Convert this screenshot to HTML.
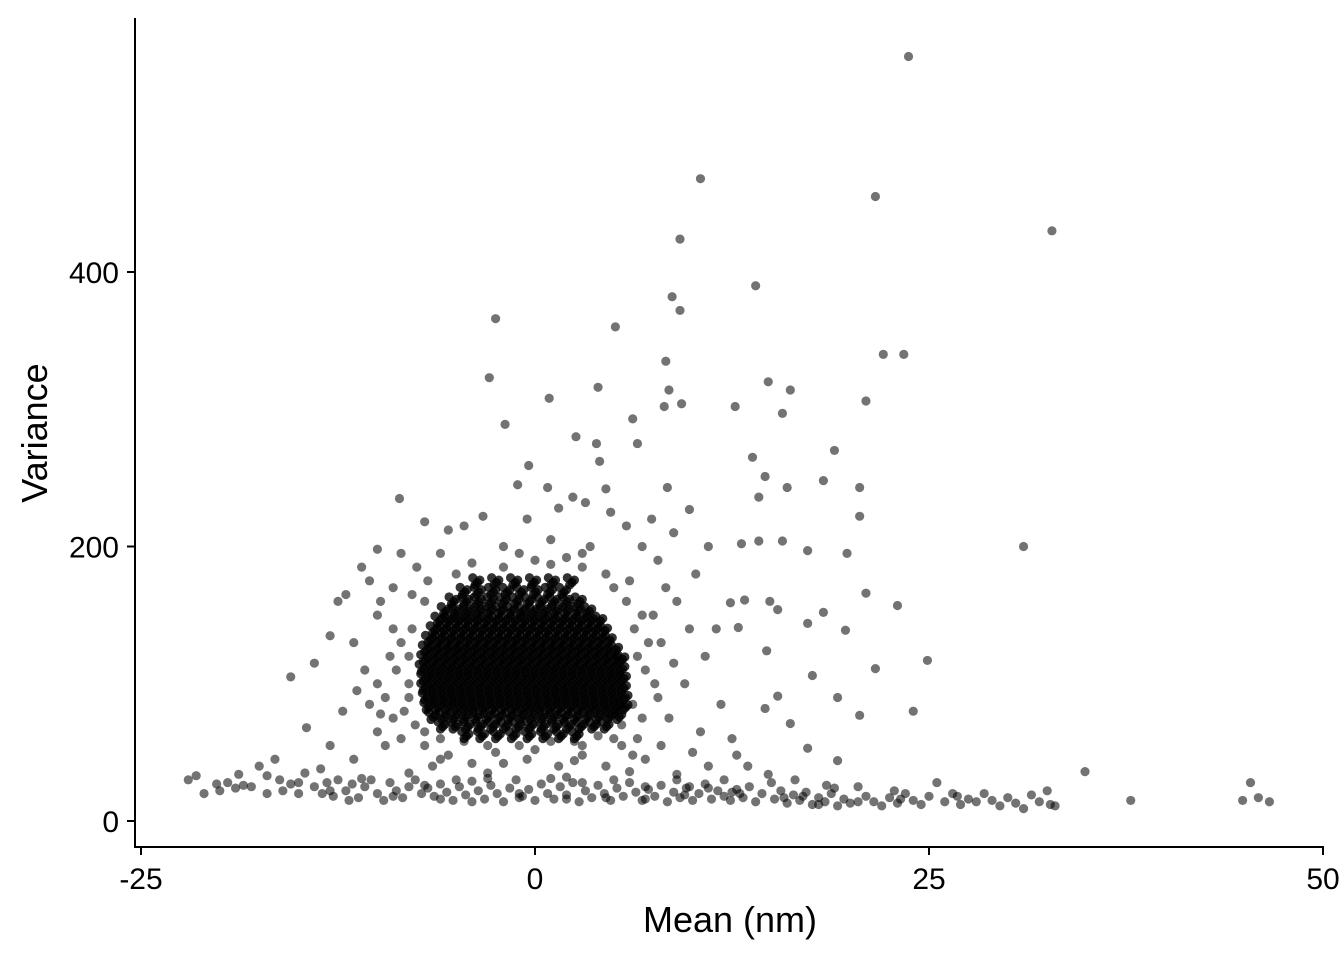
<!DOCTYPE html>
<html><head><meta charset="utf-8"><style>
html,body{margin:0;padding:0;background:#fff;}
svg text{font-family:"Liberation Sans",Arial,sans-serif;}
</style></head><body>
<svg id="chart" width="1344" height="960">
<g id="pts"></g>
<line x1="135" y1="18" x2="135" y2="848" stroke="#000" stroke-width="2"/>
<line x1="134" y1="847" x2="1324" y2="847" stroke="#000" stroke-width="2"/>
<g id="ticks"></g>
<text x="730" y="932" font-size="36" text-anchor="middle">Mean (nm)</text>
<text transform="translate(47,433) rotate(-90)" font-size="36" text-anchor="middle">Variance</text>
</svg>
<script>
const xTicks=[-25,0,25,50];
const yTicks=[0,200,400];
const outliers=[[23.7,557],[10.5,468],[21.6,455],[32.8,430],[9.2,424],[14,390],[8.7,382],[9.2,372],[-2.5,366],[5.1,360],[22.1,340],[23.4,340],[8.3,335],[-2.9,323],[14.8,320],[16.2,314],[4,316],[8.5,314],[21,306],[0.9,308],[9.3,304],[8.2,302],[12.7,302],[15.7,297],[6.2,293],[-1.9,289],[2.6,280],[3.9,275],[6.5,275],[19,270],[13.8,265],[4.1,262],[-0.4,259],[14.6,251],[18.3,248],[20.6,243],[16,243],[8.4,243],[-1.1,245],[0.8,243],[-8.6,235],[14.2,236],[2.4,236],[4.5,242],[31,200],[20.6,222],[9.8,227],[7.4,220],[13.1,202],[14.2,204],[15.7,204],[17.3,197],[19.8,195],[21,166],[23,157],[24.9,117],[24,80],[21.6,111],[19.7,139],[18.3,152],[17.3,144],[15.4,154],[14.9,160],[13.3,161],[12.4,159],[12.9,141],[14.7,124],[15.4,91],[14.6,82],[16.2,71],[17.6,106],[19.2,90],[20.6,77],[19.2,44],[17.3,53],[34.9,36],[37.8,15],[45.4,28],[44.9,15],[45.9,17],[46.6,14],[32.7,12],[11,200],[10.2,180],[9,160],[11.5,140],[10.8,120],[9.5,100],[11.8,85],[12.5,60],[10,50],[8.8,210],[7.8,190],[6.8,200],[5.8,215],[4.8,225],[3.2,232],[1.5,228],[-0.5,220],[-3.3,222],[-4.5,215],[-5.5,212],[-7,218],[-8.5,195],[-10,198],[-11,185],[-12,165],[-12.5,160],[-10.5,175],[-9,170],[-13,135],[-14,115],[-15.5,105],[-14.5,68],[-13,55],[-11.5,45],[-10,65],[-8.5,60],[-9.5,90],[-10.8,110],[-8,120],[-11.5,130],[7.5,150],[8,130],[7,110],[7.8,90],[8.5,75],[6.5,60],[7,45],[5.5,55],[4.5,40],[3,48],[1.5,40],[-0.5,45],[-2.5,50],[-4,42],[-5.5,48],[-7,55],[-6.5,40],[-8,35],[-3,35],[2,32],[6,36],[9,34],[12.8,48],[13.5,40],[8.3,170],[6,175],[-7.5,185],[-6,195],[-2,200],[1,205],[3.5,200],[-10,150],[-9,140],[-11.3,95],[-12.2,80],[-9.8,78],[10.5,65],[11,40],[9.8,25],[12,30],[-8,100],[-8.3,80],[-7.8,140],[-7,160],[-5,180],[3,185],[5,170],[6.3,140],[6.5,120],[6.2,85],[5.5,70],[-6,60],[-3,55],[0,52],[2.5,58],[4,62],[-2,185],[0,190],[2,192],[-8.5,130],[-8.8,110],[-9.2,120],[-8,90],[-7.6,70],[-9,75],[-10,100],[-7.8,165],[-6.8,175],[-4,188],[-1,195],[1,187],[3,195],[4.5,180],[5.8,160],[6.8,150],[7.2,130],[7.6,100],[6.8,75],[5,60],[3,55],[1,58],[-1,55],[-4.5,58],[-7,65],[-9.5,55],[-6,45],[-2,42],[2.5,44],[6.2,48],[8,55],[-10.5,85],[-9.8,160],[8.8,115],[9.8,140]];
const streak=[[-22,30],[-21.5,33],[-21,20],[-20.2,27],[-19.5,28],[-19,24],[-18.5,26],[-18,25],[-17.5,40],[-17,33],[-16.5,45],[-16.2,30],[-16,22],[-15.5,27],[-15,20],[-14.6,35],[-14,25],[-13.6,38],[-13.2,28],[-12.8,18],[-12.5,30],[-12,22],[-11.6,27],[-11.2,17],[-10.8,25],[-10.4,30],[-10,20],[-9.6,15],[-9.2,28],[-8.8,22],[-8.4,17],[-8,25],[-7.6,30],[-7.2,20],[-6.8,24],[-6.4,18],[-6,27],[-5.6,21],[-5.2,15],[-4.8,25],[-4.4,19],[-4,29],[-3.6,22],[-3.2,16],[-2.8,26],[-2.4,20],[-2,14],[-1.6,24],[-1.2,30],[-0.8,18],[-0.4,23],[0,15],[0.4,27],[0.8,20],[1.2,16],[1.6,25],[2,19],[2.4,28],[2.8,14],[3.2,22],[3.6,17],[4,26],[4.4,20],[4.8,15],[5.2,24],[5.6,18],[6,28],[6.4,21],[6.8,15],[7.2,23],[7.6,18],[8,26],[8.4,14],[8.8,21],[9.2,17],[9.6,24],[10,15],[10.4,20],[10.8,27],[11.2,16],[11.6,22],[12,18],[12.4,15],[12.8,23],[13.2,17],[13.6,25],[14,14],[14.4,20],[14.8,34],[15.2,16],[15.6,22],[16,13],[16.4,19],[16.8,15],[17.2,21],[17.6,12],[18,17],[18.4,14],[18.8,20],[19.2,11],[19.6,16],[20,13],[20.5,25],[21,18],[21.5,14],[22,11],[22.5,17],[23,13],[23.5,20],[24,15],[24.5,12],[25,18],[25.5,28],[26,14],[26.5,20],[27,12],[27.5,16],[28,14],[28.5,20],[29,15],[29.5,11],[30,17],[30.5,13],[31,9],[31.5,19],[32,14],[32.5,22],[33,11],[-17,20],[-15,28],[-13,22],[-11,31],[-7,26],[-5,30],[-3,31],[-1,20],[1,31],[3,28],[5,30],[7,25],[9,30],[11,24],[13,20],[15,28],[17,18],[19,24],[16.5,30],[18.5,26],[22.8,22],[26.8,18],[-20,22],[-18.8,34],[-9,18],[-6,16],[-4,14],[-1,17],[2,16],[4.5,17],[7,16],[9.5,19],[12.5,21],[15.8,17],[18,12],[20.5,14],[23.2,16],[-13.5,20],[-11.8,15]];
const blobRows=[
[60,[-4.5,-3.5,-2.5,-1.5,-0.5,0.5,1.5,2.5]],
[67,[-6,-5.2,-4.4,-3.6,-2.8,-2,-1.2,-0.4,0.4,1.2,2,2.8,3.6,4.4]],
[74,[-6.6,-5.9,-5.2,-4.5,-3.8,-3.1,-2.4,-1.7,-1,-0.3,0.4,1.1,1.8,2.5,3.2,3.9,4.6,5.2]],
[81,[-6.9,-6.3,-5.7,-5.1,-4.5,-3.9,-3.3,-2.7,-2.1,-1.5,-0.9,-0.3,0.3,0.9,1.5,2.1,2.7,3.3,3.9,4.5,5.1,5.6]],
[88,[-7,-6.4,-5.8,-5.2,-4.6,-4,-3.4,-2.8,-2.2,-1.6,-1,-0.4,0.2,0.8,1.4,2,2.6,3.2,3.8,4.4,5,5.6]],
[95,[-7.1,-6.5,-5.9,-5.3,-4.7,-4.1,-3.5,-2.9,-2.3,-1.7,-1.1,-0.5,0.1,0.7,1.3,1.9,2.5,3.1,3.7,4.3,4.9,5.5]],
[102,[-7.1,-6.5,-5.9,-5.3,-4.7,-4.1,-3.5,-2.9,-2.3,-1.7,-1.1,-0.5,0.1,0.7,1.3,1.9,2.5,3.1,3.7,4.3,4.9,5.5]],
[109,[-7.2,-6.6,-6,-5.4,-4.8,-4.2,-3.6,-3,-2.4,-1.8,-1.2,-0.6,0,0.6,1.2,1.8,2.4,3,3.6,4.2,4.8,5.4]],
[116,[-7.1,-6.5,-5.9,-5.3,-4.7,-4.1,-3.5,-2.9,-2.3,-1.7,-1.1,-0.5,0.1,0.7,1.3,1.9,2.5,3.1,3.7,4.3,4.9,5.4]],
[123,[-7,-6.4,-5.8,-5.2,-4.6,-4,-3.4,-2.8,-2.2,-1.6,-1,-0.4,0.2,0.8,1.4,2,2.6,3.2,3.8,4.4,5]],
[130,[-6.8,-6.2,-5.6,-5,-4.4,-3.8,-3.2,-2.6,-2,-1.4,-0.8,-0.2,0.4,1,1.6,2.2,2.8,3.4,4,4.6]],
[137,[-6.5,-5.9,-5.3,-4.7,-4.1,-3.5,-2.9,-2.3,-1.7,-1.1,-0.5,0.1,0.7,1.3,1.9,2.5,3.1,3.7,4.3]],
[144,[-6.2,-5.6,-5,-4.4,-3.8,-3.2,-2.6,-2,-1.4,-0.8,-0.2,0.4,1,1.6,2.2,2.8,3.4,4]],
[151,[-5.8,-5.1,-4.4,-3.7,-3,-2.3,-1.6,-0.9,-0.2,0.5,1.2,1.9,2.6,3.3]],
[158,[-5.3,-4.5,-3.7,-2.9,-2.1,-1.3,-0.5,0.3,1.1,1.9,2.7]],
[165,[-4.6,-3.7,-2.8,-1.9,-1,-0.1,0.8,1.7]],
[172,[-3.8,-2.6,-1.4,-0.2,1,2.2]]];
const xS=v=>535+v*15.76, yS=v=>821-v*1.3725;
const NS='http://www.w3.org/2000/svg';
const g=document.getElementById('pts');
function dot(x,y,a){const c=document.createElementNS(NS,'circle');
c.setAttribute('cx',xS(x));c.setAttribute('cy',yS(y));c.setAttribute('r',4.6);
c.setAttribute('fill','rgba(0,0,0,'+(a||0.55)+')');


g.appendChild(c);}
outliers.forEach(p=>dot(p[0],p[1]));
streak.forEach(p=>dot(p[0],p[1]));
blobRows.forEach(r=>r[1].forEach(x=>{dot(x,r[0],0.8);dot(x+0.3,r[0]+3.5,0.8);dot(x+0.15,r[0]+1.75,0.8);dot(x-0.15,r[0]+5.25,0.8);}));
const t=document.getElementById('ticks');
xTicks.forEach(v=>{const l=document.createElementNS(NS,'line');
l.setAttribute('x1',xS(v));l.setAttribute('x2',xS(v));l.setAttribute('y1',847);l.setAttribute('y2',855);l.setAttribute('stroke','#000');l.setAttribute('stroke-width',2);


t.appendChild(l);
const tx=document.createElementNS(NS,'text');tx.setAttribute('x',xS(v));tx.setAttribute('y',889);tx.setAttribute('font-size',30);tx.setAttribute('text-anchor','middle');tx.textContent=v;


t.appendChild(tx);});
yTicks.forEach(v=>{const l=document.createElementNS(NS,'line');
l.setAttribute('x1',127);l.setAttribute('x2',135);l.setAttribute('y1',yS(v));l.setAttribute('y2',yS(v));l.setAttribute('stroke','#000');l.setAttribute('stroke-width',2);


t.appendChild(l);
const tx=document.createElementNS(NS,'text');tx.setAttribute('x',119);tx.setAttribute('y',yS(v)+11);tx.setAttribute('font-size',30);tx.setAttribute('text-anchor','end');tx.textContent=v;


t.appendChild(tx);});
</script>
</body></html>
